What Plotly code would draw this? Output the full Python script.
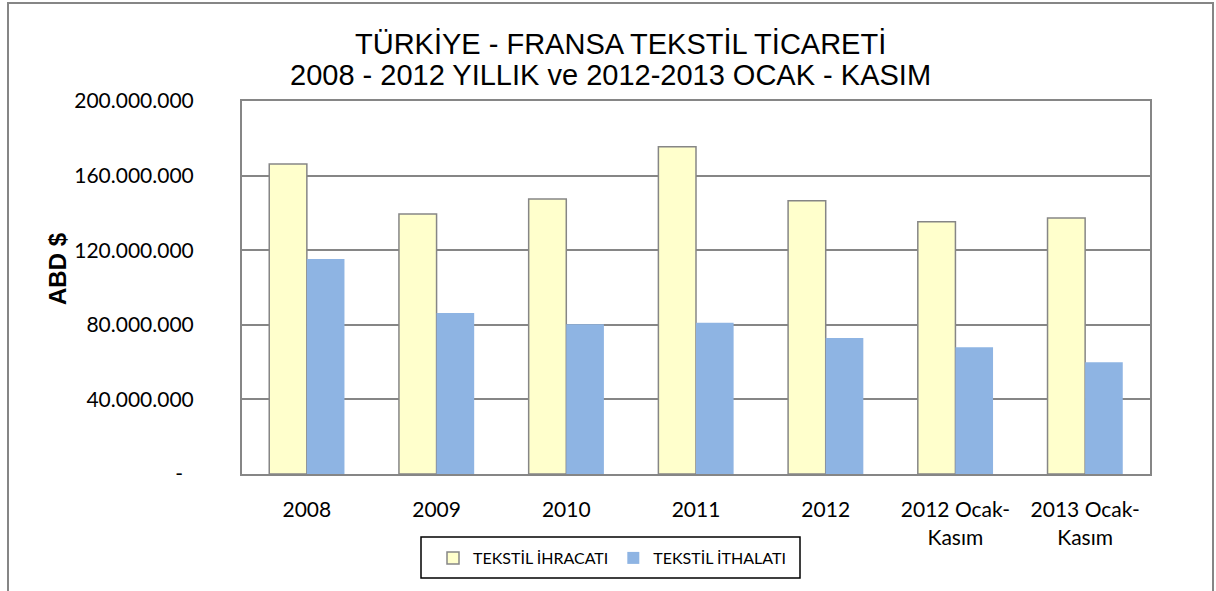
import plotly.graph_objects as go

categories = ["2008", "2009", "2010", "2011", "2012", "2012 Ocak-<br>Kasım", "2013 Ocak-<br>Kasım"]
ihracat = [166200000, 139400000, 147500000, 175500000, 146500000, 135300000, 137300000]
ithalat = [115300000, 86300000, 80300000, 81100000, 72900000, 67900000, 59900000]
y_tickvals = [0, 40000000, 80000000, 120000000, 160000000, 200000000]
y_ticktext = ["-\u00a0\u00a0", "40.000.000", "80.000.000", "120.000.000", "160.000.000", "200.000.000"]

L, R, T, B = 242, 1150, 101, 474
W, H = 1216, 591

def px(x):
    return (x - L) / (R - L)

def py(y):
    return (B - y) / (B - T)

tick_font = dict(family="Lato, Open Sans, sans-serif", size=21, color="#000000")

fig = go.Figure()
fig.add_trace(go.Bar(
    name="TEKSTİL İHRACATI", x=categories, y=ihracat,
    marker=dict(color="#FFFFCC", line=dict(color="#868686", width=1.5)),
))
fig.add_trace(go.Bar(
    name="TEKSTİL İTHALATI", x=categories, y=ithalat,
    marker=dict(color="#8EB4E3", line=dict(color="#8EB4E3", width=0)),
))

fig.update_layout(
    width=W, height=H,
    margin=dict(l=L, r=W - R, t=T, b=H - B),
    paper_bgcolor="white", plot_bgcolor="white",
    barmode="group", bargap=0.42, bargroupgap=0,
    showlegend=True,
    legend=dict(
        orientation="h", x=px(612), xanchor="center", y=py(558), yanchor="middle",
        borderwidth=0, bgcolor="rgba(0,0,0,0)",
        font=dict(family="Lato, Open Sans, sans-serif", size=16, color="#000000"),
        itemwidth=30, traceorder="normal",
    ),
    xaxis=dict(
        showline=True, linecolor="#868686", linewidth=2, mirror=True,
        tickfont=tick_font, ticks="", showgrid=False, ticklabelstandoff=16,
    ),
    yaxis=dict(
        range=[0, 200000000], tickvals=y_tickvals, ticktext=y_ticktext,
        showline=True, linecolor="#868686", linewidth=2, mirror=True,
        showgrid=True, gridcolor="#868686", gridwidth=1.5,
        tickfont=tick_font, ticks="", ticklabelstandoff=42, zeroline=False,
    ),
    annotations=[
        dict(text="TÜRKİYE - FRANSA TEKSTİL TİCARETİ", xref="paper", yref="paper",
             x=px(620), y=py(44), xanchor="center", yanchor="middle", showarrow=False,
             font=dict(family="Liberation Sans, Arial, sans-serif", size=29, color="#000000")),
        dict(text="2008 - 2012 YILLIK ve 2012-2013 OCAK - KASIM", xref="paper", yref="paper",
             x=px(610), y=py(75), xanchor="center", yanchor="middle", showarrow=False,
             font=dict(family="Liberation Sans, Arial, sans-serif", size=29, color="#000000")),
        dict(text="<b>ABD $</b>", xref="paper", yref="paper", x=px(57), y=py(269),
             xanchor="center", yanchor="middle", textangle=-90, showarrow=False,
             font=dict(family="Liberation Sans, Arial, sans-serif", size=24, color="#000000")),
    ],
    shapes=[
        dict(type="path", xref="paper", yref="paper",
             path=f"M {px(8)} {py(600)} L {px(8)} {py(3)} L {px(1213)} {py(3)} L {px(1213)} {py(600)}",
             line=dict(color="#868686", width=2), layer="above"),
        dict(type="rect", xref="paper", yref="paper",
             x0=px(421), x1=px(800), y0=py(578), y1=py(537),
             line=dict(color="#000000", width=1.5), fillcolor="rgba(0,0,0,0)", layer="above"),
    ],
)

fig.write_html("out.html")
